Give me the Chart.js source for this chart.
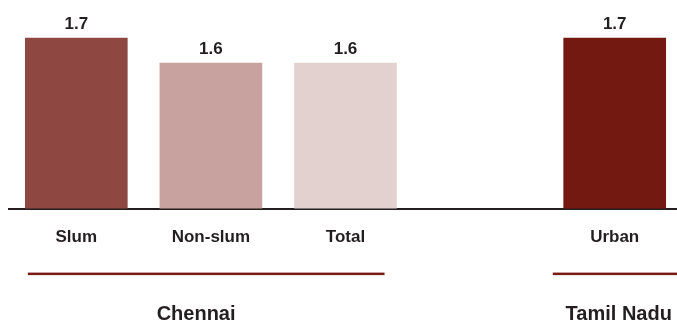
<!DOCTYPE html>
<html>
<head>
<meta charset="utf-8">
<script src="https://cdn.jsdelivr.net/npm/chart.js@4.4.1/dist/chart.umd.min.js"></script>
<style>
  html, body { margin: 0; padding: 0; background: #fff; overflow: hidden; }
  #wrap { position: relative; width: 682px; height: 322px; }
</style>
</head>
<body>
<div id="wrap"><canvas id="chart"></canvas></div>
<script>
  // categories (empty slot separates the two groups)
  const categories = ["Slum", "Non-slum", "Total", "", "Urban"];
  const values = [1.7, 1.6, 1.6, null, 1.7];
  const barColors = ["#8E4741", "#C7A29E", "#E2D1CF", "#ffffff", "#731912"];
  // group captions under the axis: [from, to, centre] in category units
  const groupNames = ["Chennai", "Tamil Nadu"];
  const groupSpans = [[-0.36, 2.29, 0.89], [3.54, 4.6, 4.03]];

  const ink = "#231F20";
  const groupRed = "#7A1A12";

  const groupPlugin = {
    id: "groups",
    afterDatasetsDraw(chart) {
      const { ctx, chartArea, scales } = chart;
      const x = scales.x;
      ctx.save();
      // value labels above bars
      ctx.fillStyle = ink;
      ctx.font = "bold 17px 'Liberation Sans', Arial, sans-serif";
      ctx.textAlign = "center";
      ctx.textBaseline = "alphabetic";
      chart.getDatasetMeta(0).data.forEach((bar, i) => {
        if (values[i] == null) return;
        ctx.fillText(values[i].toFixed(1), bar.x, bar.y - 9);
      });
      // group underline + caption
      groupNames.forEach((name, i) => {
        const [a, b, c] = groupSpans[i];
        const x0 = x.getPixelForValue(a);
        const x1 = x.getPixelForValue(b);
        ctx.fillStyle = groupRed;
        ctx.fillRect(x0, chartArea.bottom + 64, x1 - x0, 2.5);
        ctx.fillStyle = ink;
        ctx.font = "bold 20px 'Liberation Sans', Arial, sans-serif";
        ctx.fillText(name, x.getPixelForValue(c), chartArea.bottom + 111);
      });
      ctx.restore();
    },
  };

  new Chart(document.getElementById("chart"), {
    type: "bar",
    data: {
      labels: categories,
      datasets: [
        {
          data: values,
          backgroundColor: barColors,
          barThickness: 102,
          borderWidth: 0,
        },
      ],
    },
    options: {
      responsive: true,
      maintainAspectRatio: false,
      animation: false,
      layout: { padding: { left: 9, right: 0, top: 8, bottom: 55 } },
      plugins: { legend: { display: false }, tooltip: { enabled: false } },
      scales: {
        x: {
          grid: { display: false, drawTicks: false },
          border: { display: true, color: ink, width: 2 },
          ticks: {
            color: ink,
            padding: 19,
            font: { family: "'Liberation Sans', Arial, sans-serif", size: 17, weight: "bold" },
          },
        },
        y: {
          display: false,
          min: 1.02,
          max: 1.82,
        },
      },
    },
    plugins: [groupPlugin],
  });
</script>
</body>
</html>
